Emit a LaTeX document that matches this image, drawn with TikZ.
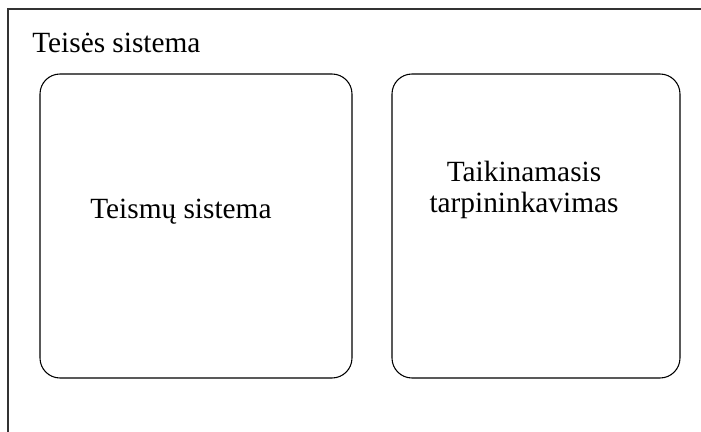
\documentclass[tikz,border=0pt]{standalone}
\usepackage{fontspec}
\setmainfont{Liberation Serif}
\usepackage{xcolor}
\usepackage{tikz}

\begin{document}
\begin{tikzpicture}[x=0.75pt,y=-0.75pt,
	box/.style={draw, line width=0.8pt, rounded corners=15pt, minimum width=234pt, minimum height=228pt, inner sep=0pt},
	txt/.style={inner sep=0pt, font=\fontsize{22}{23.25}\selectfont}]
	\useasboundingbox (0,0) rectangle (701,432);
	% outer frame
	\draw[line width=1pt, color=black!80] (8,432) -- (8,9) -- (701,9);
	\node[txt, anchor=base west] (law) at (32,52) {Teisės sistema};
	\node[box] (courts) at (196,226) {};
	\node[box, minimum width=216pt] (mediation) at (536,226) {};
	\node[txt, anchor=base west] (courtstxt) at (90,218) {Teismų sistema};
	\node[txt, anchor=base, align=center] (mediationtxt) at (524,212) {Taikinamasis\\tarpininkavimas};
\end{tikzpicture}
\end{document}
